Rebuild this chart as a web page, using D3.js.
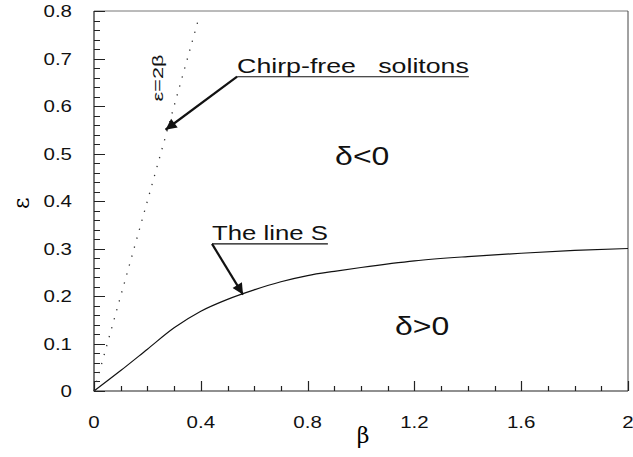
<!DOCTYPE html>
<html>
<head>
<meta charset="utf-8">
<script src="https://cdn.jsdelivr.net/npm/d3@7"></script>
<style>
  body { margin: 0; background: #fff; }
  svg { display: block; font-family: "Liberation Sans", Arial, sans-serif; }
</style>
</head>
<body>
<svg id="chart" width="633" height="457"></svg>
<script>
// The line S (beta, epsilon)
const betaS = [0, 0.1, 0.2, 0.3, 0.4, 0.5, 0.6, 0.7, 0.8, 0.9, 1.0, 1.2, 1.4, 1.6, 1.8, 2.0];
const epsS  = [0, 0.043, 0.088, 0.133, 0.168, 0.193, 0.213, 0.230, 0.243, 0.252, 0.260, 0.274, 0.283, 0.290, 0.296, 0.300];

// chirp-free line eps = 2 beta
const betaChirp = [0, 0.395];
const epsChirp  = betaChirp.map(b => 2 * b);

const xTickLabels = [0, 0.4, 0.8, 1.2, 1.6, 2];
const yTickLabels = [0, 0.1, 0.2, 0.3, 0.4, 0.5, 0.6, 0.7, 0.8];

const margin = { left: 94, right: 5, top: 11, bottom: 66 };
const width = 633, height = 457;
const stretch = 1.28; // the original font is wide

const svg = d3.select("#chart");

const x = d3.scaleLinear().domain([0, 2]).range([margin.left, width - margin.right]);
const y = d3.scaleLinear().domain([0, 0.8]).range([height - margin.bottom, margin.top]);

// wide text helper
function wideText(parent, px, py, txt, size, anchor, sx) {
    return parent.append("text")
        .attr("transform", `translate(${px},${py}) scale(${sx || stretch},1)`)
        .attr("text-anchor", anchor || "start")
        .attr("font-size", size)
        .attr("fill", "#111")
        .attr("xml:space", "preserve")
        .text(txt);
}

// frame: top and right are thin grey
svg.append("line")
    .attr("x1", x(0)).attr("x2", x(2)).attr("y1", y(0.8)).attr("y2", y(0.8))
    .attr("stroke", "#777").attr("stroke-width", 1);
svg.append("line")
    .attr("x1", x(2)).attr("x2", x(2)).attr("y1", y(0.8)).attr("y2", y(0))
    .attr("stroke", "#444").attr("stroke-width", 1);

// ticks pointing inward, longer at labelled values
const xMinor = d3.range(0, 21).map(i => i / 10);
const yMinor = d3.range(0, 41).map(i => i / 50);
const tickPath = d3.path();
xMinor.forEach((d, i) => {
    const len = i % 4 === 0 ? 10 : 5;
    tickPath.moveTo(Math.round(x(d)) + 0.5, y(0));
    tickPath.lineTo(Math.round(x(d)) + 0.5, y(0) - len);
});
yMinor.forEach((d, i) => {
    const len = i % 5 === 0 ? 11 : 6;
    tickPath.moveTo(x(0), Math.round(y(d)) + 0.5);
    tickPath.lineTo(x(0) + len, Math.round(y(d)) + 0.5);
});
svg.append("path")
    .attr("d", tickPath.toString())
    .attr("fill", "none")
    .attr("stroke", "#222")
    .attr("stroke-width", 1.2);

// axis lines
svg.append("path")
    .attr("d", `M${x(0)},${y(0.8)}V${y(0)}H${x(2)}`)
    .attr("fill", "none")
    .attr("stroke", "#222")
    .attr("stroke-width", 1.2);

const xLab = svg.append("g");
xTickLabels.forEach(d => wideText(xLab, x(d), y(0) + 37, d, 16, "middle"));
const yLab = svg.append("g");
yTickLabels.forEach(d => wideText(yLab, x(0) - 22, y(d) + 6, d, 16, "end"));

// axis titles
svg.append("text")
    .attr("transform", `translate(${x(1.008)},${y(0) + 52})`)
    .attr("text-anchor", "middle")
    .attr("font-family", "DejaVu Serif, serif")
    .attr("font-size", 22)
    .text("β");
svg.append("text")
    .attr("transform", `translate(${29},${y(0.395)}) rotate(-90)`)
    .attr("text-anchor", "middle")
    .attr("font-family", "DejaVu Serif, serif")
    .attr("font-size", 22)
    .text("ε");

// curves
const lineS = d3.line()
    .x(d => x(d[0]))
    .y(d => y(d[1]))
    .curve(d3.curveMonotoneX);
svg.append("path")
    .datum(d3.zip(betaS, epsS))
    .attr("fill", "none")
    .attr("stroke", "#111")
    .attr("stroke-width", 1.2)
    .attr("d", lineS);

svg.append("path")
    .datum(d3.zip(betaChirp, epsChirp))
    .attr("fill", "none")
    .attr("stroke", "#333")
    .attr("stroke-width", 1.3)
    .attr("stroke-dasharray", "1.3,8")
    .attr("d", d3.line().x(d => x(d[0])).y(d => y(d[1])));

// annotations
svg.append("defs").append("marker")
    .attr("id", "head")
    .attr("viewBox", "0 0 10 10")
    .attr("refX", 10).attr("refY", 5)
    .attr("markerWidth", 7).attr("markerHeight", 5)
    .attr("markerUnits", "strokeWidth")
    .attr("orient", "auto")
    .append("path")
    .attr("d", "M0,0L10,5L0,10Z")
    .attr("fill", "#111");

function label(b, e, txt, size, ulEnd, tip) {
    const g = svg.append("g");
    const t = wideText(g, x(b), y(e), txt, size, "start");
    if (ulEnd) {
        // stretch the text so it ends where the underline ends
        const w = t.node().getComputedTextLength();
        t.attr("transform", `translate(${x(b)},${y(e)}) scale(${(x(ulEnd) - x(b)) / w},1)`);
        const uy = y(e) + 3.5;
        g.append("line")
            .attr("x1", x(b)).attr("x2", x(ulEnd)).attr("y1", uy).attr("y2", uy)
            .attr("stroke", "#111").attr("stroke-width", 1.2);
        g.append("line")
            .attr("x1", x(b)).attr("y1", uy)
            .attr("x2", x(tip[0])).attr("y2", y(tip[1]))
            .attr("stroke", "#111").attr("stroke-width", 2.2)
            .attr("marker-end", "url(#head)");
    }
}

label(0.536, 0.669, "Chirp-free   solitons", 21, 1.404, [0.268, 0.55]);
label(0.442, 0.317, "The line S", 21, 0.876, [0.558, 0.203]);
label(0.903, 0.475, "δ<0", 25);
label(1.127, 0.118, "δ>0", 25);

// eps = 2 beta, reading upward
svg.append("text")
    .attr("transform", `translate(${x(0.258)},${y(0.659)}) rotate(-90) scale(1.55,1)`)
    .attr("text-anchor", "middle")
    .attr("font-size", 14)
    .attr("fill", "#111")
    .text("ε=2β");
</script>
</body>
</html>
